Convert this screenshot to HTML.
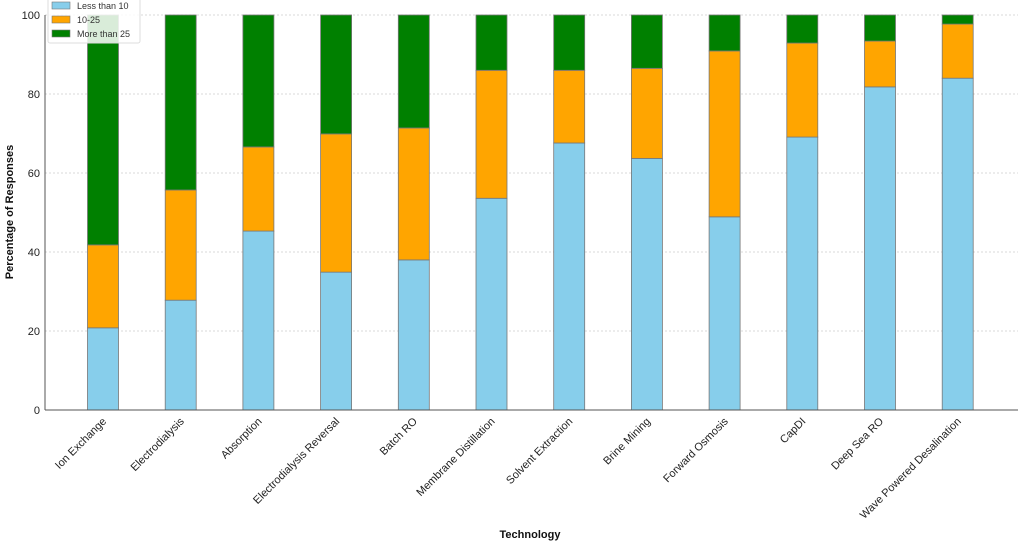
<!DOCTYPE html>
<html><head><meta charset="utf-8"><style>
body{margin:0;background:#fff;font-family:"Liberation Sans",sans-serif}
</style></head><body>
<svg id="chart" width="1026" height="550" xmlns="http://www.w3.org/2000/svg" font-family="Liberation Sans, sans-serif"></svg>
<script>
const categories=["Ion Exchange","Electrodialysis","Absorption","Electrodialysis Reversal","Batch RO","Membrane Distillation","Solvent Extraction","Brine Mining","Forward Osmosis","CapDI","Deep Sea RO","Wave Powered Desalination"];
const lessThan10=[20.8,27.8,45.3,34.9,38.0,53.6,67.6,63.7,48.9,69.1,81.8,84.0];
const from10to25=[21.0,27.9,21.3,35.0,33.4,32.4,18.4,22.8,42.0,23.8,11.6,13.7];
const moreThan25=[58.2,44.3,33.4,30.1,28.6,14.0,14.0,13.5,9.1,7.1,6.6,2.3];
const yTicks=[0,20,40,60,80,100];
const seriesNames=["Less than 10","10-25","More than 25"];
const colors=["#87CEEB","#FFA500","#008000"];

const svg=document.getElementById('chart');
const NS="http://www.w3.org/2000/svg";
const L=45,R=1018,T=15,B=410;
const y=v=>B-(v/100)*(B-T);
const step=77.7, x0=103;
const x=i=>x0+i*step;
const bw=31;
function mk(tag,attrs,parent){const e=document.createElementNS(NS,tag);for(const k in attrs)e.setAttribute(k,attrs[k]);(parent||svg).appendChild(e);return e;}

// grid
yTicks.forEach(t=>{
  const g=mk('line',{x1:L,x2:R,y1:y(t),y2:y(t),stroke:'#ccc','stroke-dasharray':'2,2','stroke-width':0.8});
  
  
  const tl=mk('text',{x:L-5,y:y(t)+4,'text-anchor':'end','font-size':11,fill:'#222'});
  tl.textContent=t;
  
  
});
categories.forEach((c,i)=>{
  const g=mk('line',{x1:x(i),x2:x(i),y1:T,y2:B,stroke:'#ccc','stroke-dasharray':'2,2','stroke-width':0.8});
  
  
});
const series=[lessThan10,from10to25,moreThan25];
categories.forEach((c,i)=>{
  let base=0;
  series.forEach((s,k)=>{
    const v=s[i];
    const r=mk('rect',{x:x(i)-bw/2,y:y(base+v),width:bw,height:y(base)-y(base+v),fill:colors[k],stroke:'#777','stroke-width':0.8});
    
    
    base+=v;
  });
  const tl=mk('text',{transform:`translate(${x(i)+4},${B+12}) rotate(-45)`,'text-anchor':'end','font-size':11,fill:'#222'});
  tl.textContent=c;
  
  
});
// axes
const ax=mk('line',{x1:L,x2:L,y1:T,y2:B,stroke:'#555','stroke-width':1});


const bx=mk('line',{x1:L,x2:R,y1:B,y2:B,stroke:'#555','stroke-width':1});


const yt=mk('text',{transform:'translate(13,212) rotate(-90)','text-anchor':'middle','font-size':11,'font-weight':'bold',fill:'#111'});
yt.textContent='Percentage of Responses';


const xt=mk('text',{x:530,y:538,'text-anchor':'middle','font-size':11,'font-weight':'bold',fill:'#111'});
xt.textContent='Technology';


// legend
const lg=mk('g',{});


mk('rect',{x:48,y:-3,width:92,height:46,fill:'#fff','fill-opacity':0.85,stroke:'#ddd',rx:2},lg);
seriesNames.forEach((n,k)=>{
  const sw=mk('rect',{x:52,y:2+k*14,width:18,height:7,fill:colors[k],stroke:'#777','stroke-width':0.6},lg);
  
  
  const t=mk('text',{x:77,y:9+k*14,'font-size':9,fill:'#333'},lg);
  t.textContent=n;
  
  
});
</script>
</body></html>
